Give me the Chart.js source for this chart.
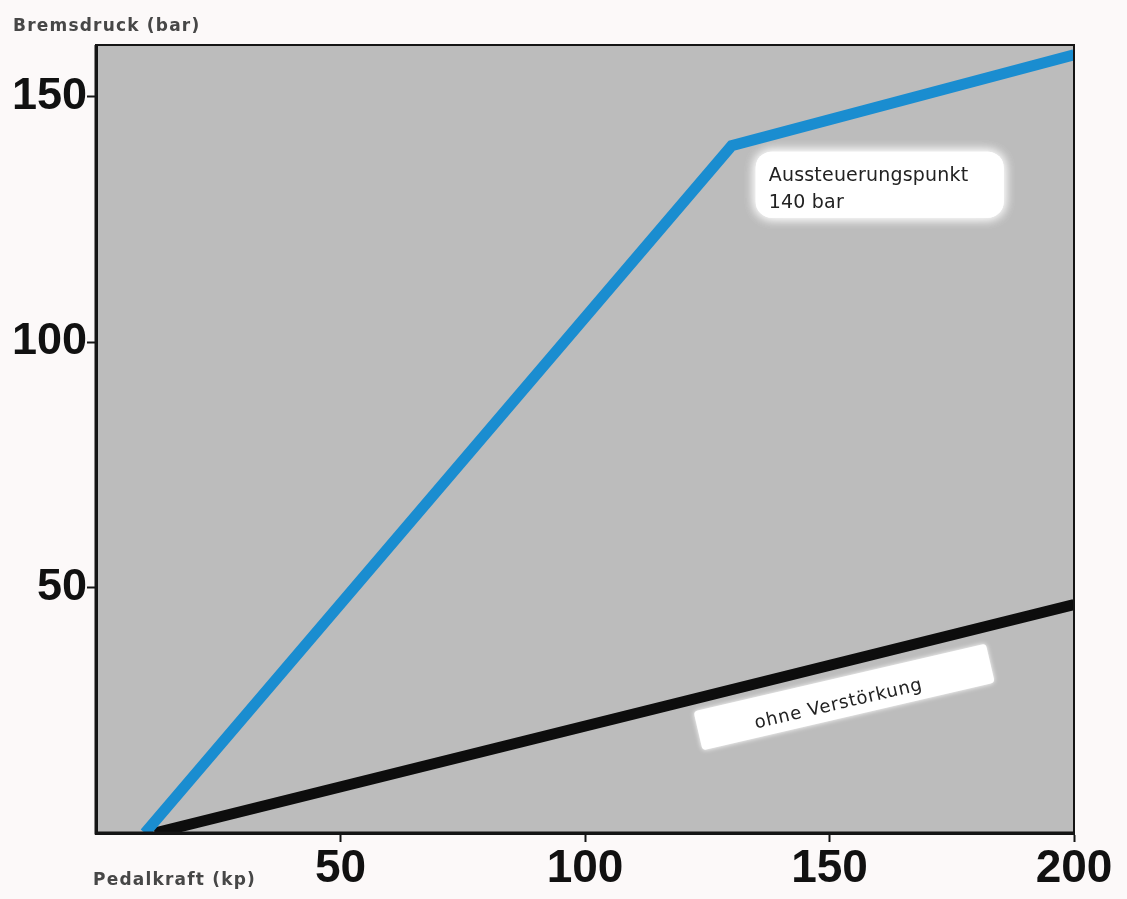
<!DOCTYPE html>
<html><head><meta charset="utf-8">
<script src="https://cdn.jsdelivr.net/npm/chart.js@4.4.1/dist/chart.umd.min.js"></script>
<style>html,body{margin:0;padding:0;background:#fcf9f9;}#wrap{width:1127px;height:899px;position:relative;}</style>
</head><body><div id="wrap"><canvas id="c"></canvas></div>
<script>
// ---- data ----
const pedalkraftMit = [10, 130, 200];
const bremsdruckMit = [0, 140, 158.5];
const pedalkraftOhne = [12, 200];
const bremsdruckOhne = [0, 46.5];
const xTicks = [50, 100, 150, 200];
const yTicks = [50, 100, 150];
const yAxisTitle = 'Bremsdruck (bar)';
const xAxisTitle = 'Pedalkraft (kp)';
const noteKnick = ['Aussteuerungspunkt', '140 bar'];
const noteOhne = 'ohne Verstörkung';

const toPts = (xs, ys) => xs.map((x, i) => ({x: x, y: ys[i]}));

const deco = {
  id: 'deco',
  beforeDraw(chart) {
    const {ctx, chartArea: a} = chart;
    ctx.save();
    ctx.fillStyle = '#bcbcbc';
    ctx.fillRect(a.left, a.top, a.right - a.left, a.bottom - a.top);
    ctx.restore();
  },
  beforeDatasetsDraw(chart) {
    const {ctx} = chart;
    const xs = chart.scales.x, ys = chart.scales.y;
    // box 1 near the knee
    const cx = xs.getPixelForValue(pedalkraftMit[1]);
    const cy = ys.getPixelForValue(bremsdruckMit[1]);
    ctx.save();
    ctx.fillStyle = '#ffffff';
    ctx.shadowColor = '#ffffff';
    ctx.shadowBlur = 12;
    ctx.beginPath();
    ctx.roundRect(cx + 24, cy + 6, 248, 66, 16);
    ctx.fill();
    ctx.fill();
    ctx.restore();
    ctx.save();
    ctx.fillStyle = '#222222';
    ctx.font = '19px "DejaVu Sans"';
    ctx.letterSpacing = '0.2px';
    ctx.textBaseline = 'alphabetic';
    ctx.fillText(noteKnick[0], cx + 37, cy + 35);
    ctx.fillText(noteKnick[1], cx + 37, cy + 62);
    ctx.restore();
    // box 2 under the black line
    const x0 = xs.getPixelForValue(pedalkraftOhne[0]), y0 = ys.getPixelForValue(bremsdruckOhne[0]);
    const x1 = xs.getPixelForValue(pedalkraftOhne[1]), y1 = ys.getPixelForValue(bremsdruckOhne[1]);
    const ang = Math.atan2(y1 - y0, x1 - x0) + 0.015;
    const bx = xs.getPixelForValue(153), by = 697;
    ctx.save();
    ctx.translate(bx, by);
    ctx.rotate(ang);
    ctx.fillStyle = '#ffffff';
    ctx.shadowColor = '#ffffff';
    ctx.shadowBlur = 5;
    ctx.beginPath();
    ctx.roundRect(-150, -20, 300, 40, 4);
    ctx.fill();
    ctx.shadowBlur = 0;
    ctx.fillStyle = '#222222';
    ctx.font = '18px "DejaVu Sans"';
    ctx.letterSpacing = '0.8px';
    ctx.textAlign = 'center';
    ctx.textBaseline = 'middle';
    ctx.fillText(noteOhne, -7, 6);
    ctx.restore();
  },
  afterDatasetsDraw(chart) {
    const {ctx, chartArea: a} = chart;
    ctx.save();
    ctx.strokeStyle = '#151515';
    ctx.lineWidth = 2;
    ctx.beginPath();
    ctx.moveTo(a.left, a.top);
    ctx.lineTo(a.right, a.top);
    ctx.lineTo(a.right, a.bottom);
    ctx.stroke();
    ctx.lineWidth = 3;
    ctx.beginPath();
    ctx.moveTo(a.left, a.top);
    ctx.lineTo(a.left, a.bottom);
    ctx.lineTo(a.right, a.bottom);
    ctx.stroke();
    ctx.restore();
  },
  afterDraw(chart) {
    const {ctx, chartArea: a} = chart;
    ctx.save();
    ctx.fillStyle = '#474747';
    ctx.font = 'bold 17px "DejaVu Sans"';
    ctx.letterSpacing = '1.2px';
    ctx.textBaseline = 'alphabetic';
    ctx.fillText(yAxisTitle, 13, 31);
    ctx.fillText(xAxisTitle, a.left - 3, 885);
    ctx.restore();
  }
};

new Chart(document.getElementById('c'), {
  type: 'scatter',
  data: {
    datasets: [
      {
        data: toPts(pedalkraftMit, bremsdruckMit),
        showLine: true, borderColor: '#1a8dd0', borderWidth: 11,
        pointRadius: 0, borderJoinStyle: 'miter', borderCapStyle: 'butt', clip: 0
      },
      {
        data: toPts(pedalkraftOhne, bremsdruckOhne),
        showLine: true, borderColor: '#0d0d0d', borderWidth: 11,
        pointRadius: 0, borderCapStyle: 'butt', clip: 0
      }
    ]
  },
  options: {
    responsive: true,
    maintainAspectRatio: false,
    animation: false,
    events: [],
    layout: {padding: {top: 45, right: 53, bottom: 0, left: 0}},
    plugins: {legend: {display: false}, tooltip: {enabled: false}, title: {display: false}},
    scales: {
      x: {
        type: 'linear', min: 0, max: 200,
        afterBuildTicks: s => { s.ticks = xTicks.map(v => ({value: v})); },
        afterFit: s => { s.height = 66; },
        border: {display: true, color: '#151515', width: 3},
        grid: {display: true, drawOnChartArea: false, drawTicks: true, tickLength: 9, color: '#151515', tickWidth: 2},
        ticks: {color: '#111', padding: 0, maxRotation: 0, autoSkip: false,
          font: {family: 'Liberation Sans', weight: 'bold', size: 46}}
      },
      y: {
        type: 'linear', min: 0, max: 160.5,
        afterBuildTicks: s => { s.ticks = yTicks.map(v => ({value: v})); },
        afterFit: s => { s.width = 96; },
        border: {display: true, color: '#151515', width: 3},
        grid: {display: true, drawOnChartArea: false, drawTicks: true, tickLength: 9, color: '#151515', tickWidth: 2},
        ticks: {color: '#111', padding: 0, autoSkip: false,
          font: {family: 'Liberation Sans', weight: 'bold', size: 45}}
      }
    }
  },
  plugins: [deco]
});
</script></body></html>
